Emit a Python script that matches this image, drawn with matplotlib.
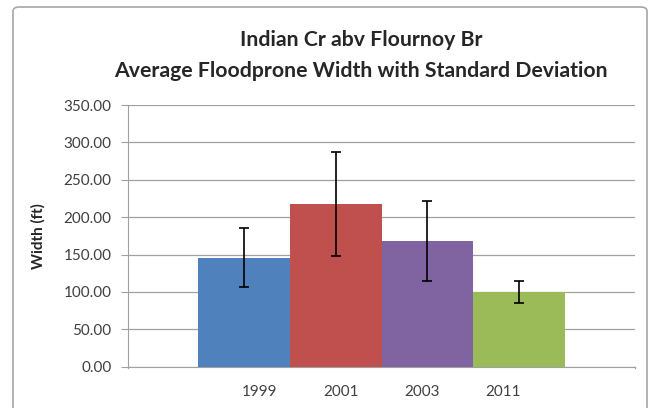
import matplotlib
matplotlib.use("Agg")
import matplotlib.pyplot as plt
from matplotlib.patches import FancyBboxPatch

plt.rcParams['font.family'] = ['Lato', 'DejaVu Sans']

years = ['1999', '2001', '2003', '2011']
means = [146.0, 217.0, 168.0, 100.0]
stds = [39.0, 69.5, 54.0, 15.0]
colors = ['#4F81BD', '#C0504D', '#8064A2', '#9BBB59']
yticks = [0, 50, 100, 150, 200, 250, 300, 350]

W, H = 657, 408
fig = plt.figure(figsize=(W / 100, H / 100), dpi=100)

# outer chart border
fig.patches.append(FancyBboxPatch((13 / W, -0.05), (647 - 13) / W, 1.05 - 7 / H,
                                  boxstyle="round,pad=0,rounding_size=0.01",
                                  transform=fig.transFigure, fill=False,
                                  edgecolor='#A6A6A6', linewidth=1.2))

ax = fig.add_axes([128 / W, 1 - 366.7 / H, (635 - 128) / W, (366.7 - 105) / H])

x = list(range(len(years)))
ax.bar(x, means, width=1.0, color=colors, zorder=3)
for xi, m, s in zip(x, means, stds):
    ax.errorbar(xi, m, yerr=s, fmt='none', ecolor='black', elinewidth=1.2,
                capsize=3.5, capthick=1.2, zorder=4)

gap = 0.763
ax.set_xlim(-0.5 - gap, len(years) - 0.5 + gap)
ax.set_ylim(0, 350)
ax.set_yticks(yticks)
ax.set_yticklabels([f"{v:.2f}" for v in yticks], fontsize=11, color='#404040')
ax.yaxis.grid(True, color='#A0A0A0', linewidth=0.9, zorder=0)
ax.tick_params(axis='y', length=5, color='#A0A0A0', pad=7)

center = (len(years) - 1) / 2
spacing = 0.883
ax.set_xticks([center + (i - center) * spacing for i in x])
ax.set_xticklabels(years, fontsize=11, color='#404040')
ax.tick_params(axis='x', length=0, pad=13)
# category boundary ticks
ax.plot([-0.5 - gap, -0.5 - gap], [0, -1.7 * 350 / 262], color='#A0A0A0', lw=0.9, clip_on=False)
ax.plot([len(years) - 0.5 + gap] * 2, [0, -1.7 * 350 / 262], color='#A0A0A0', lw=0.9, clip_on=False)

for side in ['top', 'right']:
    ax.spines[side].set_visible(False)
ax.spines['left'].set_color('#A0A0A0')
ax.spines['bottom'].set_color('#A0A0A0')

ax.set_ylabel('Width (ft)', fontsize=11, fontweight='bold', color='#262626', labelpad=13)

fig.text(361 / W, 1 - 40 / H, 'Indian Cr abv Flournoy Br', ha='center', va='center',
         fontsize=15.3, fontweight='bold', color='#262626')
fig.text(361 / W, 1 - 71 / H, 'Average Floodprone Width with Standard Deviation',
         ha='center', va='center', fontsize=15.3, fontweight='bold', color='#262626')

fig.savefig('out.png', dpi=100)
